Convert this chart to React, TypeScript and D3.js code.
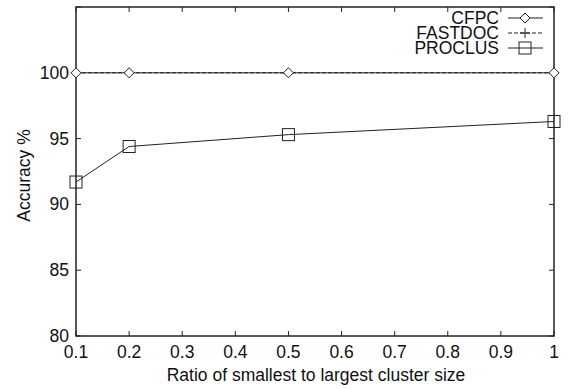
import React from "react";
import * as d3 from "d3";

const xValues = [0.1, 0.2, 0.5, 1];
const cfpc = [100, 100, 100, 100];
const fastdoc = [100, 100, 100, 100];
const proclus = [91.7, 94.4, 95.3, 96.3];
const xTicks = [0.1, 0.2, 0.3, 0.4, 0.5, 0.6, 0.7, 0.8, 0.9, 1];
const yTicks = [80, 85, 90, 95, 100, 105];
const yLabels = [80, 85, 90, 95, 100];
const seriesNames = ["CFPC", "FASTDOC", "PROCLUS"];

const W = 577, H = 389;
const L = 76, R = 554, T = 7, B = 336;
const C = "#222";
const FS = 17.5;
const font = "'Liberation Sans', Arial, Helvetica, sans-serif";

function Diamond({ x, y }: { x: number; y: number }) {
  const s = 5;
  return <path d={`M${x - s},${y}L${x},${y - s}L${x + s},${y}L${x},${y + s}Z`} fill="white" stroke={C} strokeWidth={1} />;
}
function Plus({ x, y }: { x: number; y: number }) {
  const s = 5;
  return <path d={`M${x - s},${y}H${x + s}M${x},${y - s}V${y + s}`} stroke={C} strokeWidth={1} />;
}
function Square({ x, y }: { x: number; y: number }) {
  const s = 6;
  return <rect x={x - s} y={y - s} width={2 * s} height={2 * s} fill="none" stroke={C} strokeWidth={1} />;
}

export default function App() {
  const xs = d3.scaleLinear().domain([0.1, 1]).range([L, R]);
  const ys = d3.scaleLinear().domain([80, 105]).range([B, T]);
  const line = d3.line<number>().x((_, i) => xs(xValues[i])).y((d) => ys(d));
  const legX = 499;
  const legY = [18, 33, 48];
  return (
    <svg width={W} height={H} style={{ position: "absolute", left: 0, top: 0, background: "white" }} fontFamily={font}>
      <rect x={0} y={0} width={W} height={H} fill="white" />
      {xTicks.map((t) => (
        <g key={"x" + t}>
          <line x1={xs(t)} x2={xs(t)} y1={B} y2={B - 5} stroke={C} />
          <line x1={xs(t)} x2={xs(t)} y1={T} y2={T + 5} stroke={C} />
          <text x={xs(t)} y={B + 22} textAnchor="middle" fontSize={FS} fill="#111">{t}</text>
        </g>
      ))}
      {yTicks.map((t) => (
        <g key={"y" + t}>
          <line x1={L} x2={L + 5} y1={ys(t)} y2={ys(t)} stroke={C} />
          <line x1={R} x2={R - 5} y1={ys(t)} y2={ys(t)} stroke={C} />
        </g>
      ))}
      {yLabels.map((t) => (
        <text key={"yl" + t} x={L - 7} y={ys(t) + 6} textAnchor="end" fontSize={FS} fill="#111">{t}</text>
      ))}
      <rect x={L} y={T} width={R - L} height={B - T} fill="none" stroke={C} strokeWidth={1.5} />
      <path d={line(fastdoc) || ""} fill="none" stroke={C} strokeWidth={1} strokeDasharray="4,2" />
      {fastdoc.map((v, i) => <Plus key={"f" + i} x={xs(xValues[i])} y={ys(v)} />)}
      <path d={line(cfpc) || ""} fill="none" stroke={C} strokeWidth={1} />
      {cfpc.map((v, i) => <Diamond key={"c" + i} x={xs(xValues[i])} y={ys(v)} />)}
      <path d={line(proclus) || ""} fill="none" stroke={C} strokeWidth={1} />
      {proclus.map((v, i) => <Square key={"p" + i} x={xs(xValues[i])} y={ys(v)} />)}
      {seriesNames.map((n, i) => (
        <text key={n} x={legX} y={legY[i] + 6} textAnchor="end" fontSize={FS} fill="#111">{n}</text>
      ))}
      <line x1={508} x2={543} y1={legY[0]} y2={legY[0]} stroke={C} />
      <Diamond x={525} y={legY[0]} />
      <line x1={508} x2={543} y1={legY[1]} y2={legY[1]} stroke={C} strokeDasharray="4,2" />
      <Plus x={525} y={legY[1]} />
      <line x1={508} x2={543} y1={legY[2]} y2={legY[2]} stroke={C} />
      <Square x={525} y={legY[2]} />
      <text x={(L + R) / 2 + 1} y={381} textAnchor="middle" fontSize={FS} fill="#111">Ratio of smallest to largest cluster size</text>
      <text transform={`translate(30,${(T + B) / 2 + 4}) rotate(-90)`} textAnchor="middle" fontSize={FS} fill="#111">Accuracy %</text>
    </svg>
  );
}
